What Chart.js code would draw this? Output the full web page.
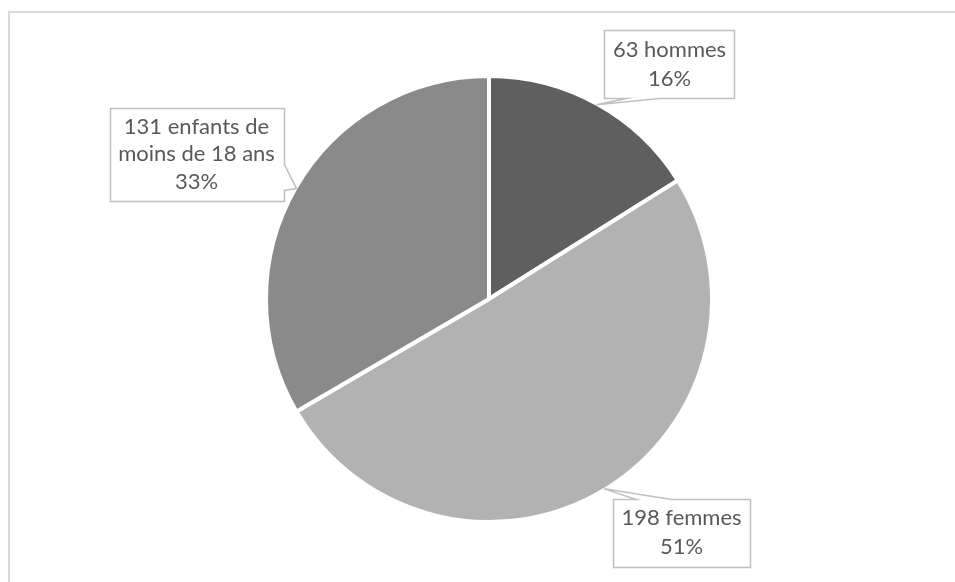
<!DOCTYPE html>
<html lang="fr">
<head>
<meta charset="utf-8">
<title>Répartition</title>
<script src="https://cdn.jsdelivr.net/npm/chart.js@4/dist/chart.umd.min.js"></script>
<style>
  html, body { margin: 0; padding: 0; background: #fff; }
  #chart-area { display: block; }
</style>
</head>
<body>
<canvas id="chart-area" width="955" height="582"></canvas>
<script>
"use strict";

// Nombre de personnes par groupe
const CATEGORIES = ["hommes", "femmes", "enfants de moins de 18 ans"];
const COUNTS = [63, 198, 131];
const COLORS = ["#5f5f5f", "#b2b2b2", "#8a8a8a"];

// Bulles de légende : centre relatif au centre du camembert, et position de la pointe
// (side = bord d'où part la pointe, from/to = distances depuis le coin de départ)
const CALLOUTS = [
  { lines: ["63 hommes"], dx: 180.5, dy: -235, lineHeight: 29, tail: { side: "bottom", from: 22, to: 55 } },
  { lines: ["198 femmes"], dx: 192.5, dy: 233.5, lineHeight: 29, tail: { side: "top", from: 23, to: 58 } },
  { lines: ["131 enfants de", "moins de 18 ans"], dx: -292.5, dy: -145, lineHeight: 27.5, tail: { side: "right", from: 37, to: 11 } }
];

const FONT = "22px Lato, 'Open Sans', sans-serif";
const TEXT_COLOR = "#595959";
const BOX_BORDER = "#bfbfbf";

function calloutPath(ctx, L, T, R, B, tip, tail) {
  ctx.beginPath();
  ctx.moveTo(L, T);
  if (tail.side === "top") {
    ctx.lineTo(L + tail.from, T);
    ctx.lineTo(tip.x, tip.y);
    ctx.lineTo(L + tail.to, T);
  }
  ctx.lineTo(R, T);
  if (tail.side === "right") {
    ctx.lineTo(R, B - tail.from);
    ctx.lineTo(tip.x, tip.y);
    ctx.lineTo(R, B - tail.to);
  }
  ctx.lineTo(R, B);
  if (tail.side === "bottom") {
    ctx.lineTo(L + tail.to, B);
    ctx.lineTo(tip.x, tip.y);
    ctx.lineTo(L + tail.from, B);
  }
  ctx.lineTo(L, B);
  ctx.closePath();
}

const frameAndCallouts = {
  id: "frameAndCallouts",
  beforeDraw(chart) {
    const ctx = chart.ctx;
    ctx.save();
    ctx.strokeStyle = "#d9d9d9";
    ctx.lineWidth = 2;
    ctx.strokeRect(9, 12, 1200, 1200);
    ctx.restore();
  },
  afterDatasetsDraw(chart) {
    const ctx = chart.ctx;
    const meta = chart.getDatasetMeta(0);
    const data = chart.data.datasets[0].data;
    const total = data.reduce((a, b) => a + b, 0);

    ctx.save();
    ctx.font = FONT;
    meta.data.forEach((arc, i) => {
      const c = CALLOUTS[i];
      const p = arc.getProps(["x", "y", "startAngle", "endAngle", "outerRadius"], true);
      const mid = (p.startAngle + p.endAngle) / 2;
      const tip = {
        x: p.x + Math.cos(mid) * (p.outerRadius - 1),
        y: p.y + Math.sin(mid) * (p.outerRadius - 1)
      };

      const lines = c.lines.concat([Math.round((data[i] / total) * 100) + "%"]);
      const textW = Math.max(...lines.map((s) => ctx.measureText(s).width));
      const w = textW + 17;
      const h = lines.length * c.lineHeight + 10;
      const cx = p.x + c.dx;
      const cy = p.y + c.dy;
      const L = Math.round(cx - w / 2) + 0.5;
      const T = Math.round(cy - h / 2) + 0.5;
      const R = L + Math.round(w);
      const B = T + Math.round(h);

      calloutPath(ctx, L, T, R, B, tip, c.tail);
      ctx.fillStyle = "#fff";
      ctx.fill();
      ctx.strokeStyle = BOX_BORDER;
      ctx.lineWidth = 1.5;
      ctx.stroke();

      ctx.fillStyle = TEXT_COLOR;
      ctx.textAlign = "center";
      ctx.textBaseline = "middle";
      const top = cy - ((lines.length - 1) * c.lineHeight) / 2;
      lines.forEach((s, k) => ctx.fillText(s, cx, top + k * c.lineHeight));
    });
    ctx.restore();
  }
};

const config = {
  type: "pie",
  data: {
    labels: CATEGORIES,
    datasets: [
      {
        data: COUNTS,
        backgroundColor: COLORS,
        borderColor: "#ffffff",
        borderWidth: 4
      }
    ]
  },
  options: {
    responsive: false,
    animation: false,
    radius: 223,
    layout: {
      padding: { top: 74, bottom: 58, left: 264, right: 241 }
    },
    plugins: {
      legend: { display: false },
      tooltip: { enabled: false },
      title: { display: false }
    }
  },
  plugins: [frameAndCallouts]
};

window.onload = function() {
  const ctx = document.getElementById("chart-area").getContext("2d");
  window.myPie = new Chart(ctx, config);
};
</script>
</body>
</html>
